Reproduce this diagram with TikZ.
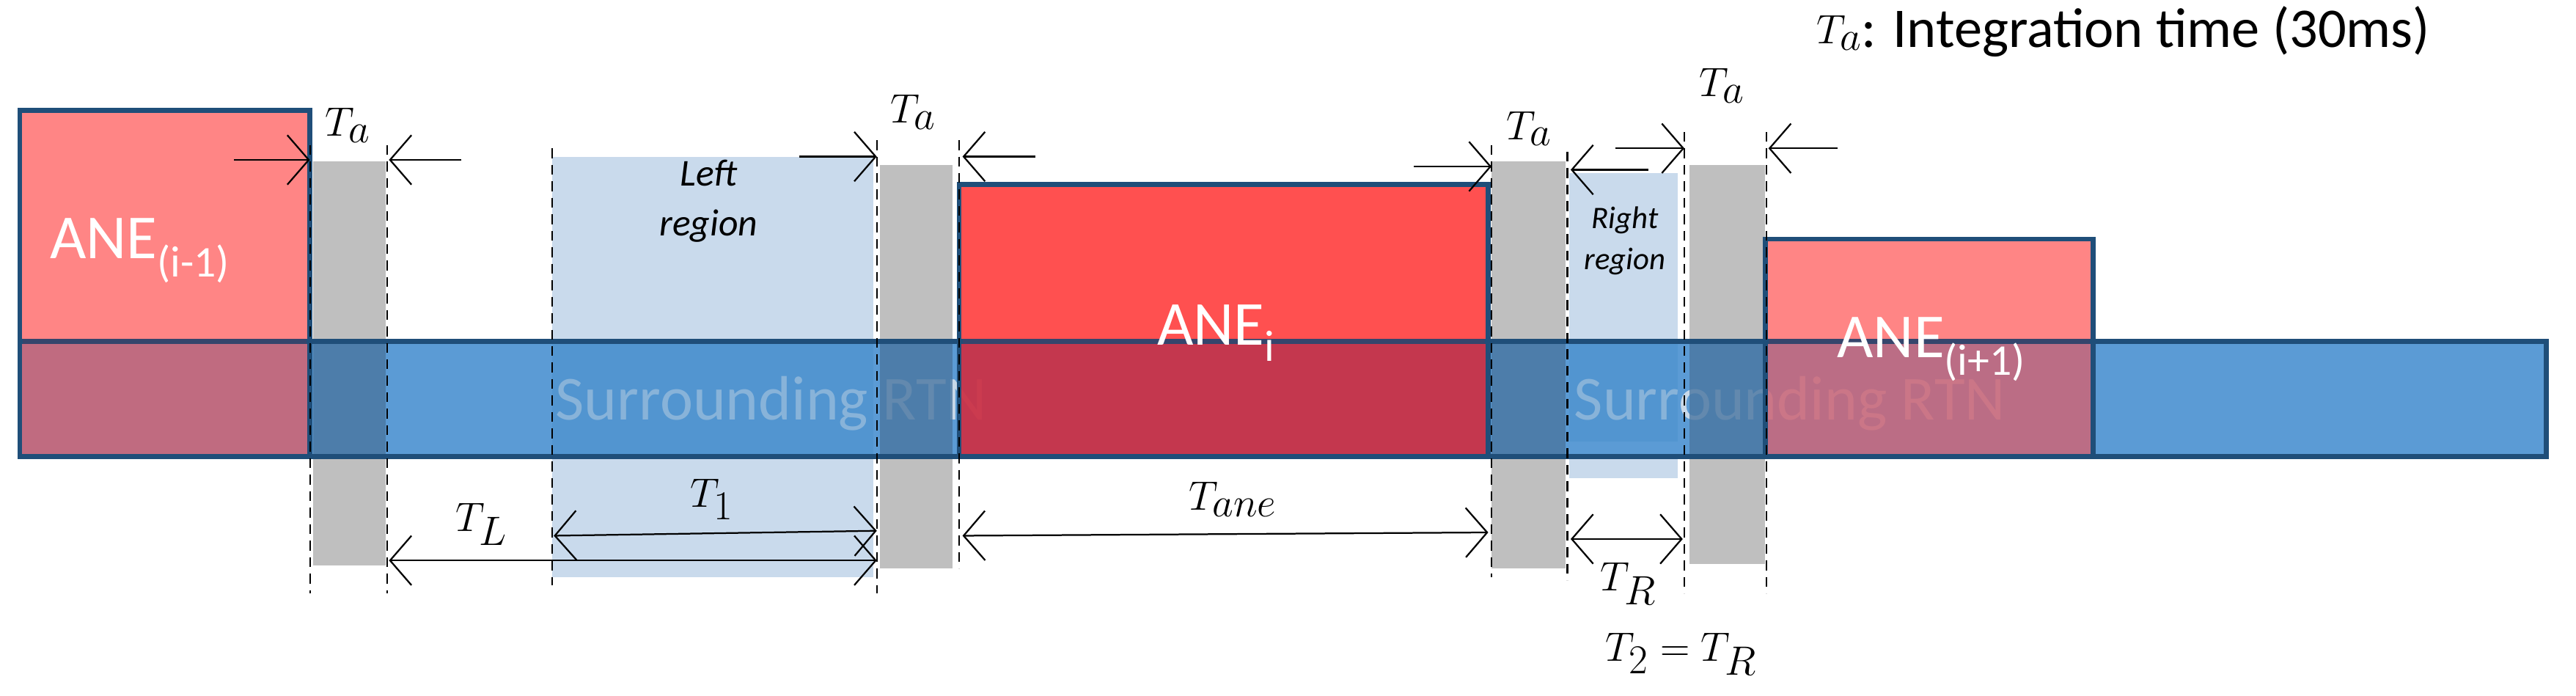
\documentclass[tikz,border=0pt]{standalone}
\usepackage{fontspec}
\setmainfont{Carlito}
\usetikzlibrary{arrows.meta}
\definecolor{edge}{HTML}{1F4E79}
\definecolor{band}{HTML}{5B9BD5}
\definecolor{pinkr}{HTML}{FF8585}
\definecolor{redr}{HTML}{FF5050}
\definecolor{grayb}{HTML}{BFBFBF}
\definecolor{lblue}{HTML}{C9DAEC}
\definecolor{ovpink}{HTML}{CC6677}
\definecolor{ovred}{HTML}{CC3044}
\definecolor{ovgray}{HTML}{4A76A0}
\definecolor{ovlb}{HTML}{4A90CC}
\definecolor{rtn}{HTML}{C8D8E8}
\tikzset{
  guide/.style={line width=0.9pt,dash pattern=on 6pt off 4pt},
  dim/.style={line width=1pt,{Straight Barb[length=13pt,width=30pt]}-{Straight Barb[length=13pt,width=30pt]}},
  arr/.style={line width=1pt,-{Straight Barb[length=13pt,width=30pt]}},
  lab/.style={inner sep=0pt,font=\fontsize{34}{36}\selectfont},
  ane/.style={text=white,inner sep=0pt,font=\fontsize{38}{40}\selectfont},
  reg/.style={inner sep=0pt,align=center,font=\fontsize{23}{30}\selectfont\itshape},
  box/.style={draw=edge,line width=3pt}
}
\begin{document}
\begin{tikzpicture}[x=1pt,y=-1pt]
\useasboundingbox (0,0) rectangle (1563,422);
% light regions and gray bars
\fill[grayb] (190,98) rectangle (234,343);
\fill[grayb] (534,100) rectangle (578,345);
\fill[grayb] (905,98) rectangle (950,345);
\fill[grayb] (1025,100) rectangle (1071,342);
\fill[lblue] (335,95) rectangle (530,350);
\fill[lblue] (952,105) rectangle (1018,290);
% ANE boxes upper parts
\fill[pinkr] (12,67) rectangle (188,207);
\fill[redr] (582,112) rectangle (903,207);
\fill[pinkr] (1071,145) rectangle (1270,207);
% band
\fill[band] (12,207) rectangle (1545,277);
\node[text=rtn,inner sep=0pt,font=\fontsize{38}{40}\selectfont] (s1) at (468,245) {Surrounding RTN};
\node[text=rtn,inner sep=0pt,font=\fontsize{38}{40}\selectfont] (s2) at (1086,245) {Surrounding RTN};
% overlaps
\fill[ovpink,opacity=0.9] (12,207) rectangle (188,277);
\fill[ovgray,opacity=0.8] (190,207) rectangle (234,277);
\fill[ovlb,opacity=0.5] (335,207) rectangle (530,277);
\fill[ovgray,opacity=0.8] (534,207) rectangle (578,277);
\fill[ovred,opacity=0.93] (582,207) rectangle (903,277);
\fill[ovgray,opacity=0.8] (905,207) rectangle (950,277);
\fill[ovlb,opacity=0.5] (952,207) rectangle (1018,268);
\fill[ovgray,opacity=0.8] (1025,207) rectangle (1071,277);
\fill[ovpink,opacity=0.85] (1071,207) rectangle (1270,277);
% borders
\draw[box] (12,207) rectangle (1545,277);
\draw[box] (12,67) rectangle (188,277);
\draw[box] (582,112) rectangle (903,277);
\draw[box] (1071,145) rectangle (1270,277);
\draw[edge!80!red,line width=3pt,opacity=0.5] (14,207)--(186,207) (584,207)--(901,207) (1073,207)--(1268,207);
% labels
\node[ane] (a1) at (85,152) {ANE\textsubscript{(i-1)}};
\node[ane] (a2) at (738,202) {ANE\textsubscript{i}};
\node[ane] (a3) at (1172,212) {ANE\textsubscript{(i+1)}};
\node[reg] (lr) at (430,122) {Left\\region};
\node[reg,font=\fontsize{19}{25}\selectfont\itshape] (rr) at (986,146) {Right\\region};
% dashed guides
\coordinate (d1a) at (188,88); \coordinate (d1b) at (188,360);
\coordinate (d2a) at (235,88); \coordinate (d2b) at (235,360);
\coordinate (d3a) at (335,90); \coordinate (d3b) at (335,355);
\coordinate (d4a) at (532,85); \coordinate (d4b) at (532,360);
\coordinate (d5a) at (582,85); \coordinate (d5b) at (582,345);
\coordinate (d6a) at (905,88); \coordinate (d6b) at (905,350);
\coordinate (d7a) at (951,92); \coordinate (d7b) at (951,352);
\coordinate (d8a) at (1022,80); \coordinate (d8b) at (1022,360);
\coordinate (d9a) at (1072,80); \coordinate (d9b) at (1072,360);
\foreach \i in {1,...,9} {\draw[guide] (d\i a)--(d\i b);}
% top arrows
\coordinate (p1) at (142,97); \coordinate (q1) at (188,97);
\coordinate (p2) at (280,97); \coordinate (q2) at (236,97);
\coordinate (p3) at (485,95); \coordinate (q3) at (532,95);
\coordinate (p4) at (628,95); \coordinate (q4) at (584,95);
\coordinate (p5) at (858,101); \coordinate (q5) at (905,101);
\coordinate (p6) at (1000,103); \coordinate (q6) at (953,103);
\coordinate (p7) at (980,90); \coordinate (q7) at (1022,90);
\coordinate (p8) at (1115,90); \coordinate (q8) at (1073,90);
\foreach \i in {1,...,8} {\draw[arr] (p\i)--(q\i);}
\node[lab] (ta1) at (211,76) {$T_a$};
\node[lab] (ta2) at (554,68) {$T_a$};
\node[lab] (ta3) at (928,78) {$T_a$};
\node[lab] (ta4) at (1045,52) {$T_a$};
\node[lab,anchor=east] (ta5) at (1130,20) {$T_a$};
\node[lab,anchor=west] (it) at (1129,19) {: Integration time (30ms)};
% bottom dimensions
\coordinate (l1) at (236,340); \coordinate (l2) at (532,340);
\coordinate (t1a) at (336,325); \coordinate (t1b) at (532,322);
\coordinate (e1) at (584,325); \coordinate (e2) at (903,323);
\coordinate (r1) at (953,327); \coordinate (r2) at (1021,327);
\draw[dim] (l1)--(l2);
\draw[dim] (t1a)--(t1b);
\draw[dim] (e1)--(e2);
\draw[dim] (r1)--(r2);
\node[lab] (tl) at (292,318) {$T_L$};
\node[lab] (t1) at (432,303) {$T_1$};
\node[lab] (tane) at (748,303) {$T_{ane}$};
\node[lab] (tr) at (988,354) {$T_R$};
\node[lab] (t2) at (1020,397) {$T_2=T_R$};
\end{tikzpicture}
\end{document}
